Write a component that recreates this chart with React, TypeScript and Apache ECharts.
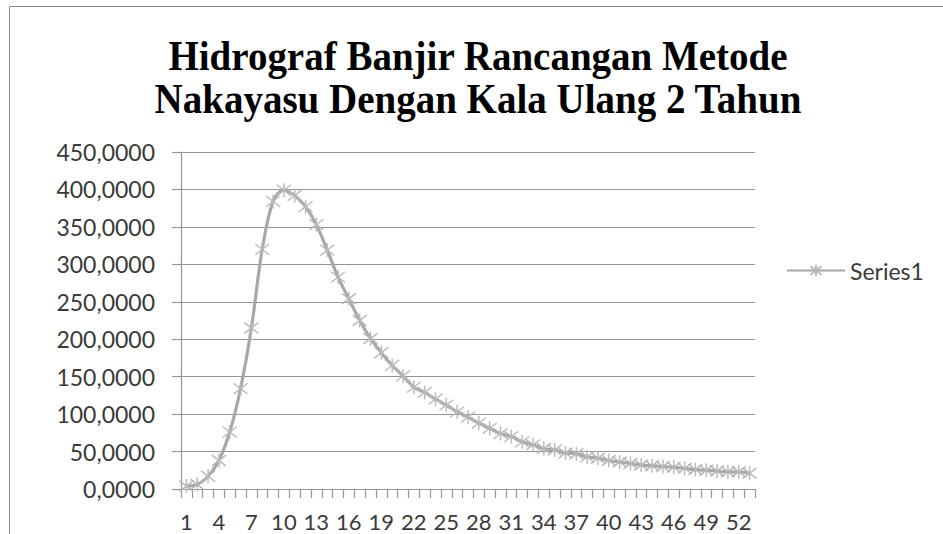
import React, { useEffect, useRef } from 'react';
import * as echarts from 'echarts';

const titleLines = ['Hidrograf Banjir Rancangan Metode', 'Nakayasu Dengan Kala Ulang 2 Tahun'];
const seriesName = 'Series1';

const categories = [
  '1', '2', '3', '4', '5', '6', '7', '8', '9', '10',
  '11', '12', '13', '14', '15', '16', '17', '18', '19', '20',
  '21', '22', '23', '24', '25', '26', '27', '28', '29', '30',
  '31', '32', '33', '34', '35', '36', '37', '38', '39', '40',
  '41', '42', '43', '44', '45', '46', '47', '48', '49', '50',
  '51', '52', '53',
];

const flowValues = [
  4, 6, 17, 38, 76, 134, 215, 320, 384, 399,
  392, 377, 353, 319, 283, 254, 225, 201, 182, 165,
  151, 136, 129, 120, 112, 103, 96, 88, 81, 74,
  70, 63, 59, 54, 52, 48, 47, 43, 41, 38,
  36, 34, 32, 31, 30, 29, 27.5, 26, 25, 24,
  23, 23, 21,
];

const yMin = 0;
const yMax = 450;
const yStep = 50;

const STAR = 'path://M0,0L10,10M10,0L0,10M5,-1.5L5,11.5';

export default function App() {
  const ref = useRef<HTMLDivElement>(null);

  useEffect(() => {
    if (!ref.current) return;
    const chart = echarts.init(ref.current, null, { renderer: 'svg' });
    const axisGrey = '#959595';
    const textGrey = '#3a3a3a';
    chart.setOption({
      animation: false,
      backgroundColor: '#ffffff',
      graphic: [
        {
          type: 'rect',
          shape: { x: 9.5, y: 6.5, width: 1200, height: 1200 },
          style: { fill: 'none', stroke: '#8a8a8a', lineWidth: 1 },
          silent: true,
        },
        ...titleLines.map((t, i) => ({
          type: 'text',
          x: 478,
          y: 55 + i * 43,
          scaleY: 1.1,
          style: {
            text: t,
            fontFamily: '"Liberation Serif", "Times New Roman", serif',
            fontWeight: 'bold',
            fontSize: 39,
            fill: '#000000',
            textAlign: 'center',
            textVerticalAlign: 'middle',
          },
        })),
      ],
      legend: {
        left: 781,
        top: 254,
        itemWidth: 58,
        itemHeight: 14,
        itemGap: 0,
        textStyle: {
          fontFamily: 'Lato, "Open Sans", sans-serif',
          fontSize: 23,
          color: textGrey,
          padding: [0, 0, 0, 0],
        },
        data: [seriesName],
      },
      grid: { left: 181, right: 188, top: 152, bottom: 45, containLabel: false },
      xAxis: {
        type: 'category',
        data: categories,
        boundaryGap: true,
        axisLine: { lineStyle: { color: axisGrey, width: 1.2 } },
        axisTick: { show: true, interval: 0, length: 9, lineStyle: { color: axisGrey, width: 1.2 } },
        axisLabel: {
          interval: 2,
          margin: 22,
          fontFamily: 'Lato, "Open Sans", sans-serif',
          fontSize: 22,
          lineHeight: 20,
          color: textGrey,
        },
        splitLine: { show: false },
      },
      yAxis: {
        type: 'value',
        min: yMin,
        max: yMax,
        interval: yStep,
        axisLine: { show: true, lineStyle: { color: axisGrey, width: 1.2 } },
        axisTick: { show: true, length: 9, lineStyle: { color: axisGrey, width: 1.2 } },
        axisLabel: {
          margin: 26,
          fontFamily: 'Lato, "Open Sans", sans-serif',
          fontSize: 23,
          color: textGrey,
          formatter: (v: number) => v.toFixed(4).replace('.', ','),
        },
        splitLine: { show: true, lineStyle: { color: axisGrey, width: 1.2 } },
      },
      series: [
        {
          name: seriesName,
          type: 'line',
          data: flowValues,
          smooth: 0.35,
          symbol: STAR,
          symbolSize: 14,
          showAllSymbol: true,
          lineStyle: { color: '#a8a8a8', width: 3.2 },
          itemStyle: { color: 'rgba(0,0,0,0)', borderColor: '#b8b8b8', borderWidth: 1.4 },
        },
      ],
    });
    return () => chart.dispose();
  }, []);

  return (
    <div
      ref={ref}
      style={{ position: 'fixed', left: 0, top: 0, width: 943, height: 534 }}
    />
  );
}
